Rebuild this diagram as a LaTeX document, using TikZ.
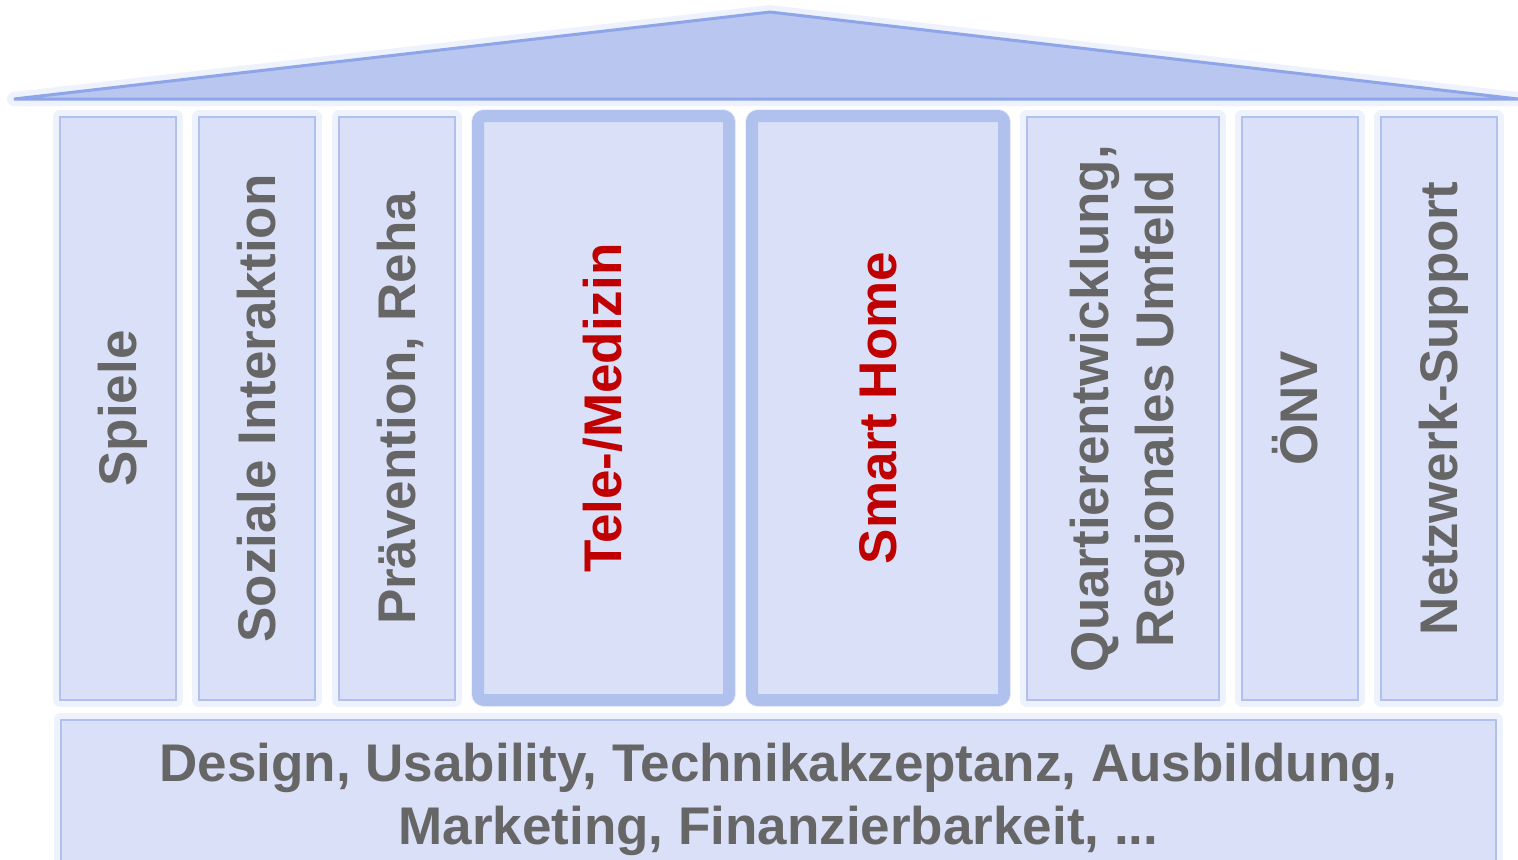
\documentclass[tikz,border=0pt]{standalone}
\usepackage{fontspec}
\setmainfont{Liberation Sans}
\usetikzlibrary{positioning}
\definecolor{roofblue}{HTML}{B8C6F0}
\definecolor{roofline}{HTML}{8EA5E8}
\definecolor{pillarfill}{HTML}{DAE0F7}
\definecolor{pillarline}{HTML}{B1C1EE}
\definecolor{glowblue}{HTML}{EEF2FD}
\definecolor{txtgray}{HTML}{666666}
\definecolor{txtred}{HTML}{C00000}
\newcommand{\pillarfont}{\fontsize{26.5}{31}\selectfont\bfseries}
\newcommand{\ppstrut}{\rule[-0.212em]{0pt}{1.117em}}

\begin{document}
\begin{tikzpicture}
    [
    x=0.5pt, y=-0.5pt,
    glow/.style = {preaction={draw=glowblue,line width=7pt,line join=round}},
    pillar/.style = {glow,draw=pillarline,fill=pillarfill,line width=1pt,rotate=90,inner sep=0pt,minimum width=291.5pt,minimum height=58pt,font=\pillarfont,text=txtgray,align=center},
    keypillar/.style = {pillar,line width=6pt,rounded corners=3pt,minimum width=292pt,text=txtred},
    basebox/.style = {glow,draw=pillarline,fill=pillarfill,line width=1pt,inner sep=0pt,minimum width=717.5pt,minimum height=75pt,font=\fontsize{26.5}{31.5}\selectfont\bfseries,text=txtgray,align=center},
    roof/.style = {glow,fill=roofblue,draw=roofline,line width=1.5pt}
    ]
\useasboundingbox (0,0) rectangle (1518,859);
\clip (0,0) rectangle (1518,859);

% roof
\coordinate (eaveL) at (14,99);
\coordinate (ridge) at (770,12);
\coordinate (eaveR) at (1518,99);
\draw[roof] (eaveL) -- (ridge) -- (eaveR) -- cycle;

% pillars
\node[pillar] (spiele) at (118,408.5) {\ppstrut Spiele};
\node[pillar] (sozial) at (257,408.5) {\ppstrut Soziale Interaktion};
\node[pillar] (reha) at (397,408.5) {\ppstrut Prävention, Reha};
\node[keypillar,minimum height=125.5pt] (tele) at (603.5,408) {\ppstrut Tele-/Medizin};
\node[keypillar,minimum height=126pt] (smart) at (878,408) {\ppstrut Smart Home};
\node[pillar,minimum height=96pt,font=\fontsize{26.5}{32.5}\selectfont\bfseries] (quartier) at (1122.5,408.5) {\ppstrut Quartierentwicklung,\\\ppstrut Regionales Umfeld};
\node[pillar] (oenv) at (1299.5,408.5) {\ppstrut ÖNV};
\node[pillar] (netz) at (1439,408.5) {\ppstrut Netzwerk-Support};

% foundation
\node[basebox] (base) at (778.5,795) {\ppstrut Design, Usability, Technikakzeptanz, Ausbildung,\\\ppstrut Marketing, Finanzierbarkeit, ...};
\end{tikzpicture}
\end{document}
